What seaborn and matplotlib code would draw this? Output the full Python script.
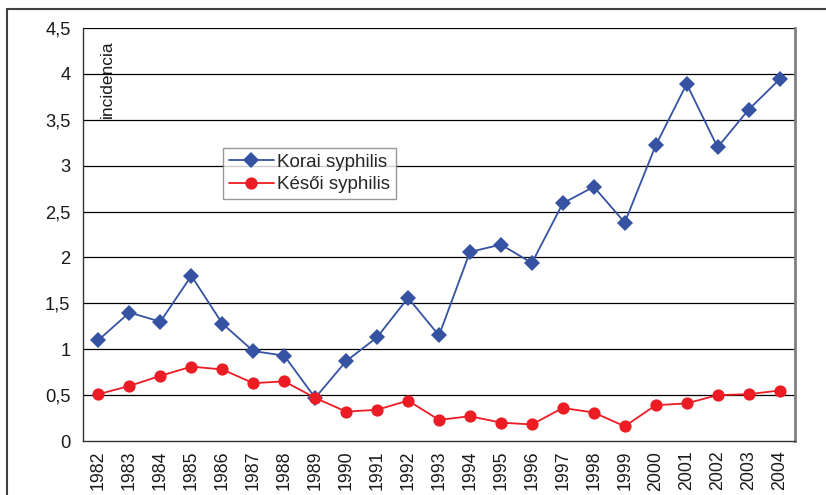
import matplotlib
matplotlib.use("Agg")
import matplotlib.pyplot as plt
from matplotlib.lines import Line2D
from matplotlib.ticker import FixedLocator
import seaborn as sns
import pandas as pd
import numpy as np

years = list(range(1982, 2005))
korai = [1.10, 1.40, 1.30, 1.80, 1.28, 0.98, 0.93, 0.47, 0.87, 1.13, 1.56, 1.15,
         2.06, 2.14, 1.94, 2.59, 2.77, 2.38, 3.22, 3.89, 3.20, 3.61, 3.94]
kesoi = [0.51, 0.60, 0.71, 0.81, 0.78, 0.63, 0.65, 0.47, 0.32, 0.34, 0.44, 0.23,
         0.27, 0.20, 0.18, 0.36, 0.31, 0.16, 0.39, 0.41, 0.50, 0.51, 0.55]
series_names = ["Korai syphilis", "Késői syphilis"]
y_ticks = [0, 0.5, 1, 1.5, 2, 2.5, 3, 3.5, 4, 4.5]
y_labels = ["0", "0,5", "1", "1,5", "2", "2,5", "3", "3,5", "4", "4,5"]

sns.set_style("white")
plt.rcParams["font.family"] = ["Liberation Sans", "DejaVu Sans"]

df = pd.DataFrame({
    "year": years * 2,
    "value": korai + kesoi,
    "series": [series_names[0]] * len(years) + [series_names[1]] * len(years),
})

fig = plt.figure(figsize=(8.26, 4.95), dpi=100)
ax = fig.add_axes([83 / 826, 1 - 441 / 495, (795 - 83) / 826, (441 - 28) / 495])

blue = "#3652A3"
red = "#EC1C24"
sns.lineplot(data=df[df.series == series_names[0]], x="year", y="value", ax=ax,
             color=blue, marker="D", markersize=8.3, markeredgewidth=0,
             linewidth=1.3, label=series_names[0])
sns.lineplot(data=df[df.series == series_names[1]], x="year", y="value", ax=ax,
             color=red, marker="o", markersize=8.8, markeredgewidth=0,
             linewidth=1.3, label=series_names[1])

ax.set_xlim(years[0] - 0.5, years[-1] + 0.5)
ax.set_ylim(0, 4.5)
ax.set_xlabel("")
ax.set_ylabel("")

ax.set_xticks(years)
ax.set_xticklabels([str(y) for y in years], rotation=90, fontsize=12.8)
ax.xaxis.set_minor_locator(FixedLocator(np.arange(years[0] - 0.5, years[-1] + 1, 1.0)))
ax.tick_params(axis="x", which="major", length=0, pad=7, colors="#1a1a1a")
ax.tick_params(axis="x", which="minor", length=6, width=1, color="#333333", direction="out")
ax.set_yticks(y_ticks)
ax.set_yticklabels(y_labels, fontsize=13.2)
ax.tick_params(axis="y", length=6, width=1, color="#333333", direction="out", pad=3,
               labelcolor="#1a1a1a")

for yv in y_ticks[1:]:
    ax.axhline(yv, color="#000000", linewidth=0.9, zorder=0)

for s in ["left", "bottom"]:
    ax.spines[s].set_color("#333333")
    ax.spines[s].set_linewidth(1.0)
ax.spines["top"].set_visible(False)
ax.spines["right"].set_color("#808080")
ax.spines["right"].set_linewidth(2.0)

leg = ax.legend(loc="upper left", bbox_to_anchor=(223 / 826, 1 - 148 / 495),
                bbox_transform=fig.transFigure, fontsize=13.5, frameon=True,
                fancybox=False, edgecolor="#7f7f7f", handlelength=2.4,
                handletextpad=0.2, borderpad=0.3, labelspacing=0.3,
                borderaxespad=0)
leg.get_frame().set_linewidth(1.0)

fig.text(100 / 826, 1 - 118 / 495, "incidencia", rotation=90, ha="left", va="bottom",
         fontsize=12.5, color="#1a1a1a")

fig.add_artist(Line2D([7 / 826, 1], [1 - 9 / 495, 1 - 9 / 495], color="#404040", linewidth=1.5))
fig.add_artist(Line2D([7 / 826, 7 / 826], [0, 1 - 9 / 495], color="#404040", linewidth=1.5))

fig.savefig("out.png", dpi=100)
